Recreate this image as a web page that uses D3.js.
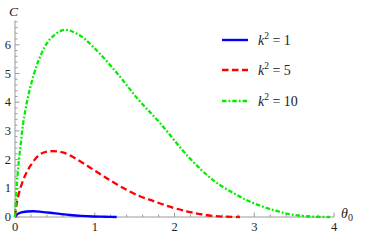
<!DOCTYPE html>
<html><head><meta charset="utf-8">
<script src="https://cdn.jsdelivr.net/npm/d3@7"></script>
<style>body{margin:0;background:#fff}svg{display:block}text{font-family:"Liberation Serif","Times New Roman","DejaVu Serif",serif}</style>
</head><body>
<script>
const blueTheta = [0, 0.03, 0.08, 0.15, 0.23, 0.33, 0.44, 0.56, 0.69, 0.83, 0.98, 1.13, 1.275];
const blueC     = [0, 0.10, 0.16, 0.19, 0.20, 0.18, 0.15, 0.11, 0.07, 0.04, 0.02, 0.01, 0.0];
const redTheta = [0, 0.02, 0.063, 0.12, 0.19, 0.31, 0.44, 0.61, 0.8, 0.98, 1.15, 1.32, 1.55, 1.73, 1.95, 2.15, 2.3, 2.48, 2.65, 2.82];
const redC     = [0, 0.45, 0.96, 1.4, 1.77, 2.18, 2.29, 2.24, 1.97, 1.65, 1.35, 1.07, 0.74, 0.56, 0.35, 0.2, 0.11, 0.04, 0.01, 0];
const greenTheta = [0, 0.03, 0.07, 0.11, 0.19, 0.31, 0.44, 0.62, 0.8, 0.98, 1.28, 1.55, 1.82, 2.19, 2.5, 2.82, 2.95, 3.24, 3.5, 3.75, 3.95];
const greenC     = [0, 1.4, 2.5, 3.4, 4.5, 5.55, 6.2, 6.52, 6.35, 5.93, 5.01, 4.08, 3.27, 2.05, 1.25, 0.71, 0.53, 0.24, 0.07, 0.01, 0];
const seriesLabels = ["1", "5", "10"];
const xTicks = [0, 1, 2, 3, 4];
const yTicks = [0, 1, 2, 3, 4, 5, 6];

const W = 388, H = 241;
const svg = d3.select("body").append("svg").attr("width", W).attr("height", H);
const x = d3.scaleLinear().domain([0, 4]).range([15, 334]);
const y = d3.scaleLinear().domain([0, 6]).range([217, 44.8]);
const axisCol = "#9a9a9a";

svg.append("line").attr("x1", x(0)).attr("x2", x(4)).attr("y1", y(0)).attr("y2", y(0)).attr("stroke", axisCol).attr("stroke-width", 1);
svg.append("line").attr("x1", x(0)).attr("x2", x(0)).attr("y1", y(0)).attr("y2", y(6.85)).attr("stroke", axisCol).attr("stroke-width", 1);

const xMinor = d3.range(0, 4.001, 0.2);
svg.selectAll(".xm").data(xMinor).enter().append("line")
  .attr("x1", d => x(d)).attr("x2", d => x(d)).attr("y1", y(0)).attr("y2", (d,i) => y(0) - (i % 5 === 0 ? 4.5 : 2.5))
  .attr("stroke", axisCol).attr("stroke-width", 1);
const yMinor = d3.range(0, 6.81, 0.2);
svg.selectAll(".ym").data(yMinor).enter().append("line")
  .attr("y1", d => y(d)).attr("y2", d => y(d)).attr("x1", x(0)).attr("x2", (d,i) => x(0) + (i % 5 === 0 ? 4.5 : 2.5))
  .attr("stroke", axisCol).attr("stroke-width", 1);

svg.selectAll(".xl").data(xTicks).enter().append("text")
  .attr("x", d => x(d)).attr("y", y(0) + 14).attr("text-anchor", "middle")
  .attr("font-size", 12.5).attr("fill", "#222").text(d => d);
svg.selectAll(".yl").data(yTicks).enter().append("text")
  .attr("x", x(0) - 4).attr("y", d => y(d) + 4).attr("text-anchor", "end")
  .attr("font-size", 12.5).attr("fill", "#222").text(d => d);

svg.append("text").attr("x", 9).attr("y", 16).attr("font-style", "italic")
  .attr("font-size", 13.5).attr("fill", "#222").text("C");
const tl = svg.append("text").attr("x", 341).attr("y", 218)
  .attr("font-size", 14).attr("fill", "#222");
tl.append("tspan").attr("font-style", "italic").text("θ");
tl.append("tspan").attr("font-size", 10).attr("dy", 3).text("0");

const mk = (t, c) => t.map((v, i) => [v, c[i]]);
const line = d3.line().x(d => x(d[0])).y(d => y(d[1])).curve(d3.curveCatmullRom.alpha(0.5));
const series = [
  {data: mk(blueTheta, blueC), color: "#0000ff", dash: null, w: 2.4},
  {data: mk(redTheta, redC), color: "#ff0000", dash: "6.5,3.5", w: 2.3},
  {data: mk(greenTheta, greenC), color: "#00ee00", dash: "4.5,2,1.8,2", w: 2.3}
];
series.forEach(s => {
  svg.append("path").attr("d", line(s.data)).attr("fill", "none").attr("stroke", s.color)
    .attr("stroke-width", s.w).attr("stroke-dasharray", s.dash);
});

const legY = [40, 70, 101];
series.forEach((s, i) => {
  svg.append("line").attr("x1", 222).attr("x2", 248).attr("y1", legY[i]).attr("y2", legY[i])
    .attr("stroke", s.color).attr("stroke-width", s.w).attr("stroke-dasharray", s.dash);
  const t = svg.append("text").attr("x", 258).attr("y", legY[i] + 4.5)
    .attr("font-size", 14).attr("fill", "#222");
  t.append("tspan").attr("font-style", "italic").text("k");
  t.append("tspan").attr("font-size", 9.5).attr("dy", -6).text("2");
  t.append("tspan").attr("dy", 6).text(" = " + seriesLabels[i]);
});
</script>
</body></html>
